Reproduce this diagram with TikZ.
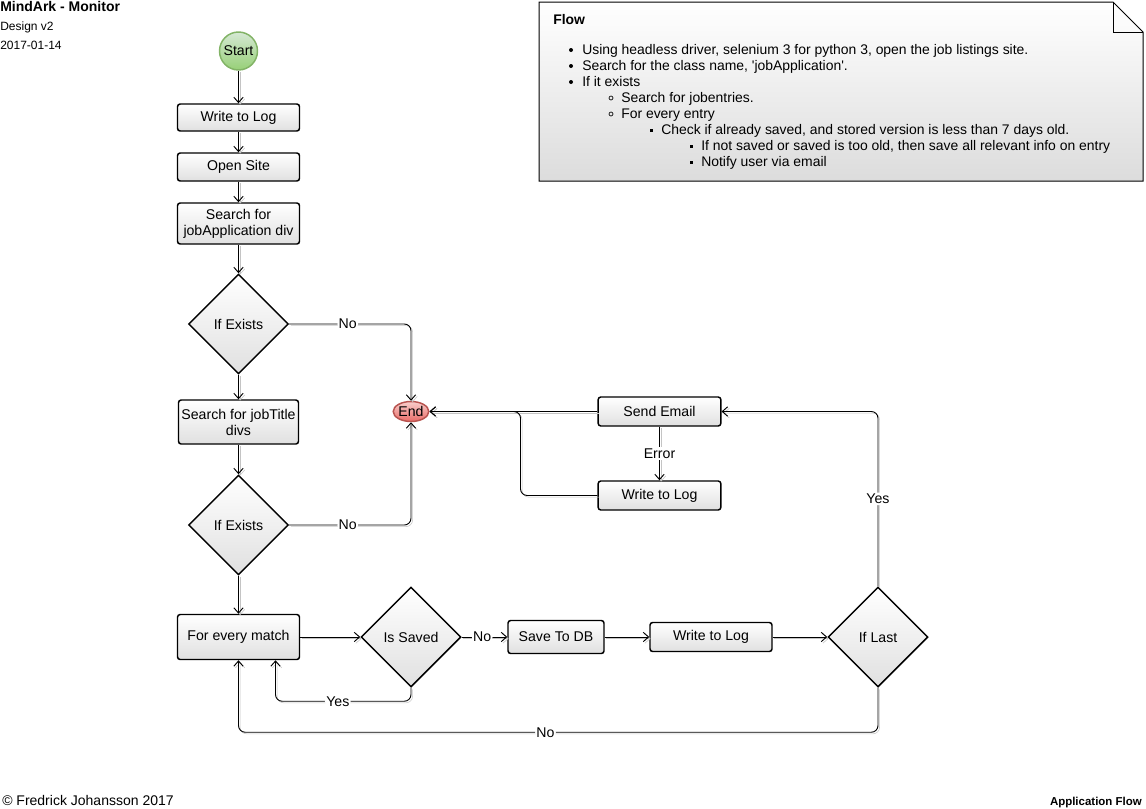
\documentclass[tikz,border=0pt]{standalone}
\usepackage{fontspec}
\setmainfont{Liberation Sans}
\usetikzlibrary{arrows.meta,shapes.geometric,calc}
\definecolor{startfill}{HTML}{97D077}
\definecolor{startlight}{HTML}{D5E8D4}
\definecolor{startline}{HTML}{82B366}
\definecolor{endfill}{HTML}{EA6B66}
\definecolor{endlight}{HTML}{F8CECC}
\definecolor{endline}{HTML}{B85450}
\definecolor{boxbottom}{HTML}{E0E0E0}
\definecolor{notebottom}{HTML}{DCDCDC}
\definecolor{shadowgray}{HTML}{C4C4C4}
\begin{document}
\begin{tikzpicture}[x=0.75pt,y=-0.75pt,
  every node/.style={font=\fontsize{10.6}{12}\selectfont},
  proc/.style={draw, line width=1.1pt, rounded corners=2pt, top color=white,
    bottom color=boxbottom, align=center, inner sep=1pt},
  decision/.style={diamond, draw, line width=1.1pt, top color=white,
    bottom color=boxbottom, minimum width=75pt, minimum height=75pt,
    inner sep=0pt, aspect=1},
  flow/.style={line width=0.7pt, rounded corners=5pt,
    -{Straight Barb[length=4pt,width=7pt,line width=0.7pt]},
    preaction={draw=shadowgray, transform canvas={shift={(1.2pt,-1.2pt)}}}},
  lbl/.style={fill=white, inner sep=1pt},
  plain/.style={anchor=base west, inner sep=0pt},
  notetext/.style={anchor=base west, inner sep=0pt, font=\fontsize{10.45}{12}\selectfont},
]
\useasboundingbox (0,0) rectangle (1146,808);

% header
\node[plain, font=\bfseries\fontsize{10.5}{12}\selectfont] (title) at (0,11) {MindArk - Monitor};
\node[plain, font=\fontsize{9}{11}\selectfont] (design) at (0,30) {Design v2};
\node[plain, font=\fontsize{9}{11}\selectfont] (date) at (0,49) {2017-01-14};

% main column
\node[circle, draw=startline, line width=1.1pt, top color=startlight,
  bottom color=startfill, minimum size=28.5pt, inner sep=0pt] (start) at (238.5,51) {Start};
\node[proc, minimum width=91.5pt, minimum height=20.25pt] (log1) at (238.5,117.5) {Write to Log};
\node[proc, minimum width=91.5pt, minimum height=21pt] (site) at (238.5,167) {Open Site};
\node[proc, minimum width=91.5pt, minimum height=30.75pt] (searchapp) at (238.5,223.5) {Search for\\jobApplication div};
\node[decision] (ifex1) at (238.5,324) {If Exists};
\node[proc, minimum width=90pt, minimum height=33pt] (searchtitle) at (238.5,422) {Search for jobTitle\\divs};
\node[decision] (ifex2) at (238.5,525) {If Exists};
\node[proc, minimum width=91.5pt, minimum height=33.75pt] (match) at (238.5,637) {For every match};

% bottom row
\node[decision] (saved) at (411,637) {Is Saved};
\node[proc, minimum width=72pt, minimum height=24.75pt] (savedb) at (556,637) {Save To DB};
\node[proc, minimum width=91.5pt, minimum height=21.75pt] (log3) at (711,637) {Write to Log};
\node[decision] (last) at (878,637) {If Last};

% notification branch
\node[proc, minimum width=92pt, minimum height=21.75pt] (email) at (659.5,411.5) {Send Email};
\node[proc, minimum width=92pt, minimum height=21.75pt] (log2) at (659.5,495.5) {Write to Log};
\node[ellipse, draw=endline, line width=1.1pt, top color=endlight, bottom color=endfill,
  minimum width=24.75pt, minimum height=15pt, inner sep=0pt] (end) at (411,411.5) {End};

% connectors
\draw[flow] (start) -- (log1);
\draw[flow] (log1) -- (site);
\draw[flow] (site) -- (searchapp);
\draw[flow] (searchapp) -- (ifex1);
\draw[flow] (ifex1) -- (searchtitle);
\draw[flow] (searchtitle) -- (ifex2);
\draw[flow] (ifex2) -- (match);
\draw[flow] (ifex1.east) -| node[lbl, pos=0.24] {No} (end.north);
\draw[flow] (ifex2.east) -| node[lbl, pos=0.24] {No} (end.south);
\draw[flow] (match) -- (saved);
\draw[flow] (saved.south) |- node[lbl, pos=0.77] {Yes} ($(match.south)+(37,41)$) -- ($(match.south)+(37,0)$);
\draw[flow] (saved) -- node[lbl, pos=0.45] {No} (savedb);
\draw[flow] (savedb) -- (log3);
\draw[flow] (log3) -- (last);
\draw[flow] (last.south) |- node[lbl, pos=0.76] {No} ($(match.south)+(0,72)$) -- (match.south);
\draw[flow] (last.north) |- node[lbl, pos=0.25] {Yes} (email.east);
\draw[flow] (email) -- node[lbl] {Error} (log2);
\draw[flow] (email.west) -- (end.east);
\draw[flow] (log2.west) -| ($(end.east)+(91,0)$) -- (end.east);

% description note with folded corner
\draw[line width=0.75pt, top color=white, bottom color=notebottom]
  (539,2) -- (1113,2) -- (1143,32) -- (1143,181) -- (539,181) -- cycle;
\draw[line width=0.75pt] (1113,2) -- (1113,32) -- (1143,32);
\node[notetext, font=\bfseries\fontsize{10.45}{12}\selectfont] (flowhead) at (553,24) {Flow};
\fill (571,50) circle[radius=1.5pt];
\node[notetext] (n1) at (582,54) {Using headless driver, selenium 3 for python 3, open the job listings site.};
\fill (571,66) circle[radius=1.5pt];
\node[notetext] (n2) at (582,70) {Search for the class name, \textquotesingle jobApplication\textquotesingle.};
\fill (571,82) circle[radius=1.5pt];
\node[notetext] (n3) at (582,86) {If it exists};
\draw[line width=0.5pt] (611,98) circle[radius=1.5pt];
\node[notetext] (n4) at (621,102) {Search for jobentries.};
\draw[line width=0.5pt] (611,114) circle[radius=1.5pt];
\node[notetext] (n5) at (621,118) {For every entry};
\fill (649.5,128.5) rectangle ++(3.5,3.5);
\node[notetext] (n6) at (661,134) {Check if already saved, and stored version is less than 7 days old.};
\fill (689.5,144.5) rectangle ++(3.5,3.5);
\node[notetext] (n7) at (701,150) {If not saved or saved is too old, then save all relevant info on entry};
\fill (689.5,160.5) rectangle ++(3.5,3.5);
\node[notetext] (n8) at (701,166) {Notify user via email};

% footer
\node[plain, font=\fontsize{10.5}{12}\selectfont] (copy) at (2,805) {\textcopyright{} Fredrick Johansson 2017};
\node[anchor=base east, inner sep=0pt, font=\bfseries\fontsize{8.6}{10}\selectfont] (apptitle) at (1142,805) {Application Flow};
\end{tikzpicture}
\end{document}
